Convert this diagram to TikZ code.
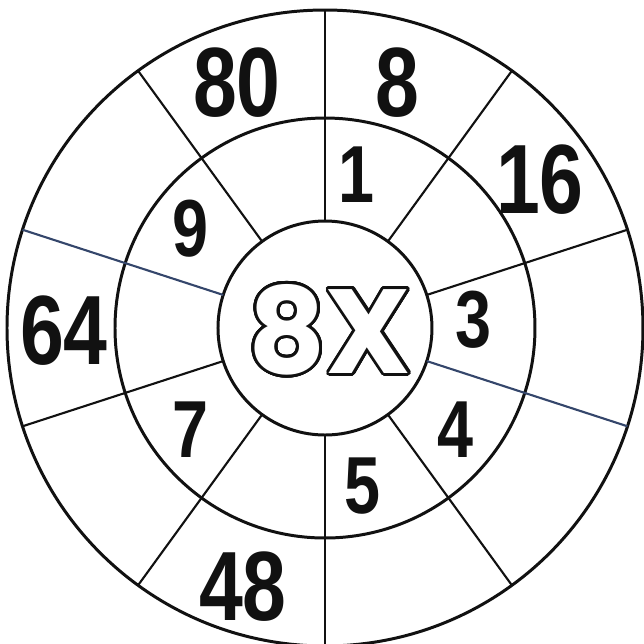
\documentclass[tikz,border=0pt]{standalone}
\usepackage{fontspec}
\usepackage{contour}
\newfontfamily\numfont[FakeStretch=0.8]{Liberation Sans}
\newfontfamily\titlefont{Poppins}
\definecolor{ringdark}{HTML}{111111}
\definecolor{splitblue}{HTML}{34466B}
\contourlength{0.8pt}
\contournumber{40}

\begin{document}
\begin{tikzpicture}[x=0.01cm, y=0.01cm, line width=0.85pt, ringdark,
    outnum/.style={font=\numfont\bfseries\fontsize{28}{30}\selectfont, inner sep=0pt},
    innum/.style={font=\numfont\bfseries\fontsize{23}{25}\selectfont, inner sep=0pt}]

    \useasboundingbox (-325,-316) rectangle (319,328);

    % Rings
    \coordinate (c) at (0,0);
    \draw (c) circle (318);
    \draw (c) circle (210);
    \draw (c) circle (107);

    % Spokes
    \foreach \a in {18,54,90,126,198,234,270,306} {
        \draw[line width=0.6pt] (\a:107) -- (\a:318);
    }
    \foreach \a in {162,342} {
        \draw[splitblue, line width=0.6pt] (\a:107) -- (\a:318);
    }

    % Outer ring
    \node[outnum] (n80) at (-88,245) {80};
    \node[outnum] (n8) at (72,245) {8};
    \node[outnum] (n16) at (215,148) {16};
    \node[outnum] (n64) at (-261,-3) {64};
    \node[outnum] (n48) at (-82,-259) {48};

    % Inner ring
    \node[innum] (m1) at (32,153) {1};
    \node[innum] (m3) at (149,8) {3};
    \node[innum] (m4) at (131,-102) {4};
    \node[innum] (m5) at (38,-158) {5};
    \node[innum] (m7) at (-135,-102) {7};
    \node[innum] (m9) at (-135,99) {9};

    % Times table
    \node[inner sep=0pt, font=\titlefont\bfseries\fontsize{34}{36}\selectfont] (title) at (5,-3)
        {\contour{ringdark}{\textcolor{white}{8X}}};

\end{tikzpicture}
\end{document}
